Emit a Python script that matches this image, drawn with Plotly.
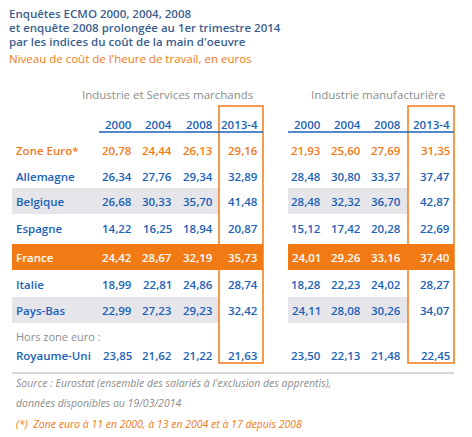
import plotly.graph_objects as go

title_lines = ["Enquêtes ECMO 2000, 2004, 2008",
               "et enquête 2008 prolongée au 1er trimestre 2014",
               "par les indices du coût de la main d'oeuvre"]
subtitle = "Niveau de coût de l'heure de travail, en euros"
groups = ["Industrie et Services marchands", "Industrie manufacturière"]
years = ["2000", "2004", "2008", "2013-4"]
countries = ["Zone Euro*", "Allemagne", "Belgique", "Espagne", "France", "Italie", "Pays-Bas", "Royaume-Uni"]
ism = [["20,78","24,44","26,13","29,16"],["26,34","27,76","29,34","32,89"],
       ["26,68","30,33","35,70","41,48"],["14,22","16,25","18,94","20,87"],
       ["24,42","28,67","32,19","35,73"],["18,99","22,81","24,86","28,74"],
       ["22,99","27,23","29,23","32,42"],["23,85","21,62","21,22","21,63"]]
manu = [["21,93","25,60","27,69","31,35"],["28,48","30,80","33,37","37,47"],
        ["28,48","32,32","36,70","42,87"],["15,12","17,42","20,28","22,69"],
        ["24,01","29,26","33,16","37,40"],["18,28","22,23","24,02","28,27"],
        ["24,11","28,08","30,26","34,07"],["23,50","22,13","21,48","22,45"]]
source_lines = ["Source : Eurostat (ensemble des salariés à l'exclusion des apprentis),",
                "données disponibles au 19/03/2014"]
footnote = "(*)  Zone euro à 11 en 2000, à 13 en 2004 et à 17 depuis 2008"

BLUE = "#1a62b8"; ORANGE = "#f27a14"; GRAY = "#8c8c8c"; BAND = "#e6e5ea"; TITLE = "#3a5f8f"
FONT = "Open Sans"
row_y = [150, 176, 201, 228, 257, 284, 310, 355]
colL = [134, 174, 215, 260]
colR = [323, 363, 403, 452]

fig = go.Figure()
shapes = []
ann = []
def txt(x, y, s, color, size=11.5, anchor="left", weight=600, italic=False):
    ann.append(dict(x=x, y=y, text=s, showarrow=False, xanchor=anchor, yanchor="middle",
                    font=dict(family=FONT, size=size, color=color, weight=weight,
                              style="italic" if italic else "normal")))
def rect(x0, y0, x1, y1, fill=None, line=None):
    shapes.append(dict(type="rect", x0=x0, x1=x1, y0=y0, y1=y1, layer="below",
                       fillcolor=fill or "rgba(0,0,0,0)",
                       line=dict(color=line or "rgba(0,0,0,0)", width=1.5 if line else 0)))

for i in (2, 6):
    rect(12, row_y[i]-13, 219, row_y[i]+13, BAND)
    rect(288, row_y[i]-13, 408, row_y[i]+13, BAND)
rect(12, 244, 263, 270, ORANGE)
rect(288, 244, 454, 270, ORANGE)
rect(219, 106, 263, 363, None, ORANGE)
rect(408, 106, 454, 363, None, ORANGE)
shapes.append(dict(type="line", x0=99, x1=263, y0=132, y1=132, line=dict(color=BLUE, width=1.5)))
shapes.append(dict(type="line", x0=288, x1=454, y0=132, y1=132, line=dict(color=BLUE, width=1.5)))
shapes.append(dict(type="line", x0=12, x1=454, y0=373, y1=373, line=dict(color="#b0b0b0", width=1)))

for i, t in enumerate(title_lines):
    txt(7, 13 + 14*i, t, TITLE, 11.5, weight=600)
txt(7, 58, subtitle, ORANGE, 11.5, weight=500)
txt(167, 94, groups[0], GRAY, 11.5, "center", 400)
txt(378, 94, groups[1], GRAY, 11.5, "center", 400)
for j, yr in enumerate(years):
    txt(colL[j], 124, yr, BLUE, 11.5, "right")
    txt(colR[j], 124, yr, BLUE, 11.5, "right")
for i, c in enumerate(countries):
    col = ORANGE if i == 0 else ("white" if i == 4 else BLUE)
    txt(14, row_y[i], c, col, 11.5)
    for j in range(4):
        txt(colL[j], row_y[i], ism[i][j], col, 11.5, "right")
        txt(colR[j], row_y[i], manu[i][j], col, 11.5, "right")
txt(14, 336, "Hors zone euro :", GRAY, 11, weight=400)
txt(14, 383, source_lines[0], GRAY, 10.5, weight=400, italic=True)
txt(14, 403, source_lines[1], GRAY, 10.5, weight=400, italic=True)
txt(14, 424, footnote, ORANGE, 10.5, weight=400, italic=True)

fig.update_layout(width=472, height=437, margin=dict(l=0, r=0, t=0, b=0),
                  paper_bgcolor="white", plot_bgcolor="white",
                  xaxis=dict(range=[0, 472], visible=False, fixedrange=True),
                  yaxis=dict(range=[437, 0], visible=False, fixedrange=True),
                  shapes=shapes, annotations=ann, showlegend=False)
fig.write_html("out.html", config={"displayModeBar": False})
with open("out.html", encoding="utf-8") as f:
    html = f.read()
html = html.replace("<head>", "<head><style>html,body{margin:0;padding:0;overflow:hidden}</style>", 1)
with open("out.html", "w", encoding="utf-8") as f:
    f.write(html)
